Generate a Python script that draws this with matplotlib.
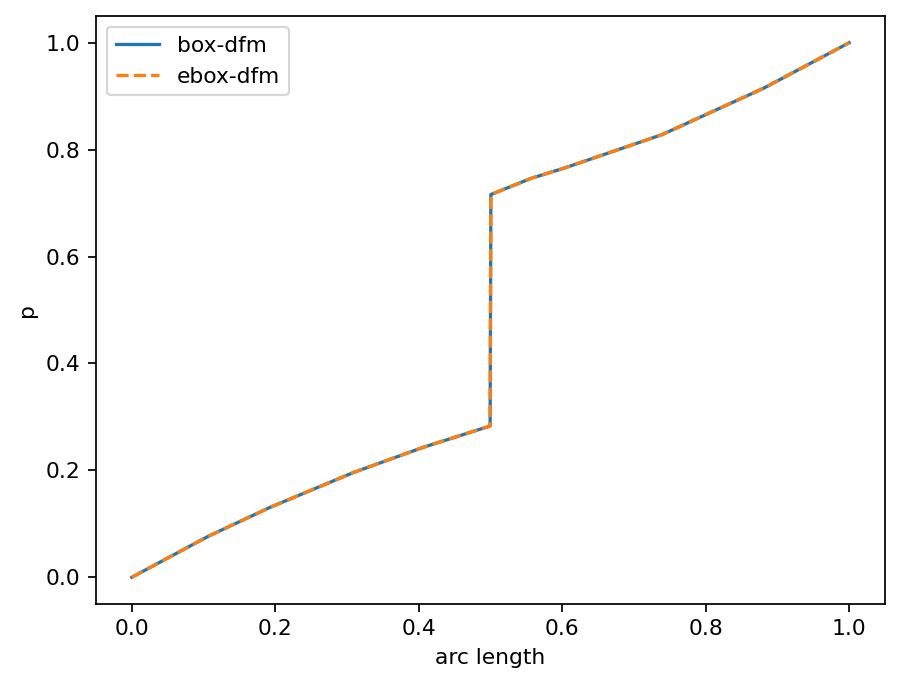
import matplotlib
matplotlib.use("Agg")
import matplotlib.pyplot as plt

arc = [0.0, 0.107, 0.193, 0.309, 0.406, 0.4995, 0.5005, 0.556, 0.604, 0.739, 0.881, 1.0]
p_box = [0.0, 0.077, 0.131, 0.196, 0.243, 0.283, 0.716, 0.746, 0.766, 0.828, 0.915, 1.0]
p_ebox = list(p_box)

DPI = 157
fig = plt.figure(figsize=(900/DPI, 686/DPI), dpi=DPI)
ax = fig.add_axes([96/900, 1-604/686, (885-96)/900, (604-16)/686])
ax.plot(arc, p_box, label="box-dfm")
ax.plot(arc, p_ebox, "--", label="ebox-dfm")
ax.set_xlabel("arc length")
ax.set_ylabel("p")
ax.legend(loc="upper left")
fig.savefig("out.png", dpi=DPI)
